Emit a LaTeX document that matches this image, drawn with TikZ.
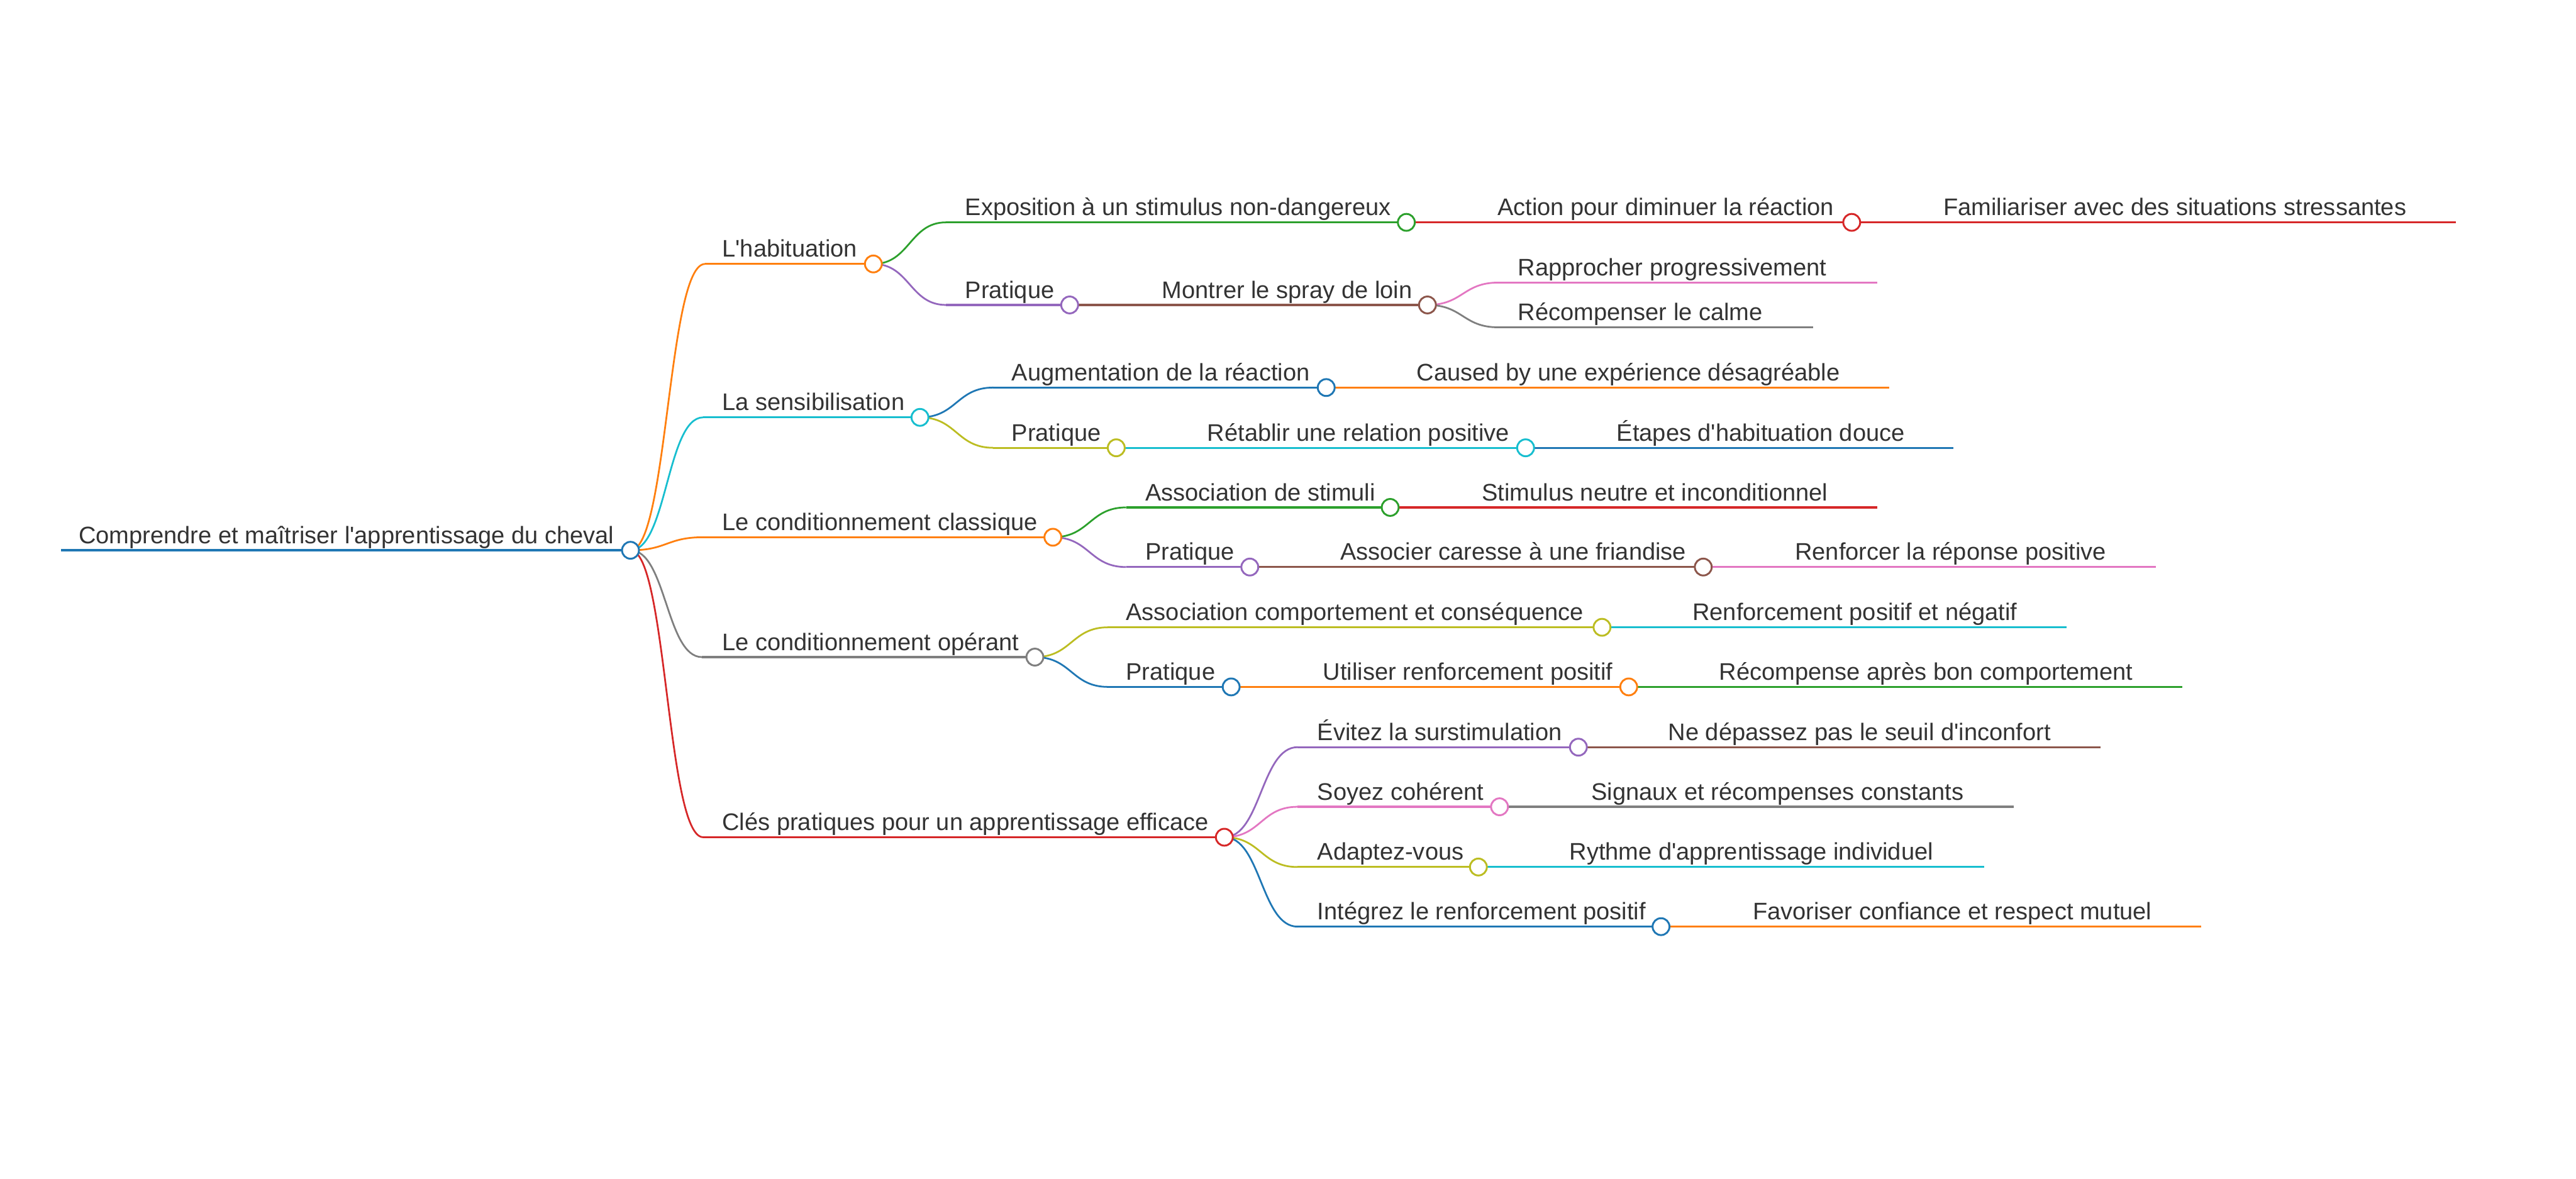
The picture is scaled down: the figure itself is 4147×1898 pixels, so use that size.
\documentclass[tikz,border=0pt]{standalone}
\usepackage{fontspec}
\newfontfamily\labfont{Liberation Sans}
\usetikzlibrary{calc,backgrounds}
\definecolor{cBlue}{HTML}{1F77B4}
\definecolor{cOrange}{HTML}{FF7F0E}
\definecolor{cGreen}{HTML}{2CA02C}
\definecolor{cRed}{HTML}{D62728}
\definecolor{cPurple}{HTML}{9467BD}
\definecolor{cBrown}{HTML}{8C564B}
\definecolor{cPink}{HTML}{E377C2}
\definecolor{cGray}{HTML}{7F7F7F}
\definecolor{cOlive}{HTML}{BCBD22}
\definecolor{cCyan}{HTML}{17BECF}
\definecolor{txt}{HTML}{333333}
\begin{document}
\begin{tikzpicture}[x=0.25pt,y=-0.25pt,
  lbl/.style={anchor=base west, inner sep=0pt, text=txt, font=\labfont\fontsize{9.63pt}{11pt}\selectfont},
  knob/.style={circle, draw=#1, fill=white, line width=0.75pt, minimum size=6.8pt, inner sep=0pt},
  uline/.style={draw=#1, line width=0.8pt},
  curv/.style={draw=#1, line width=0.7pt, to path={let \p1=(\tikztostart), \p2=(\tikztotarget) in .. controls ({(\x1+\x2)/2},\y1) and ({(\x1+\x2)/2},\y2) .. (\tikztotarget)}}]
\useasboundingbox (0,0) rectangle (4147,1898);

% ---------- texts ----------
\node[lbl] (tR) at (126,875) {Comprendre et maîtriser l'apprentissage du cheval};
\node[lbl] (tA) at (1162,414) {L'habituation};
\node[lbl] (tA1) at (1553,347) {Exposition à un stimulus non-dangereux};
\node[lbl] (tA1a) at (2410,347) {Action pour diminuer la réaction};
\node[lbl] (tA1a1) at (3128,347) {Familiariser avec des situations stressantes};
\node[lbl] (tA2) at (1553,480) {Pratique};
\node[lbl] (tA2a) at (1870,480) {Montrer le spray de loin};
\node[lbl] (tA2a1) at (2443,444) {Rapprocher progressivement};
\node[lbl] (tA2a2) at (2443,516) {Récompenser le calme};
\node[lbl] (tB) at (1162,661) {La sensibilisation};
\node[lbl] (tB1) at (1628,613) {Augmentation de la réaction};
\node[lbl] (tB1a) at (2280,613) {Caused by une expérience désagréable};
\node[lbl] (tB2) at (1628,710) {Pratique};
\node[lbl] (tB2a) at (1943,710) {Rétablir une relation positive};
\node[lbl] (tB2a1) at (2602,710) {Étapes d'habituation douce};
\node[lbl] (tC) at (1162,854) {Le conditionnement classique};
\node[lbl] (tC1) at (1843,806) {Association de stimuli};
\node[lbl] (tC1a) at (2385,806) {Stimulus neutre et inconditionnel};
\node[lbl] (tC2) at (1843,902) {Pratique};
\node[lbl] (tC2a) at (2157,902) {Associer caresse à une friandise};
\node[lbl] (tC2a1) at (2889,902) {Renforcer la réponse positive};
\node[lbl] (tD) at (1162,1047) {Le conditionnement opérant};
\node[lbl] (tD1) at (1812,999) {Association comportement et conséquence};
\node[lbl] (tD1a) at (2724,999) {Renforcement positif et négatif};
\node[lbl] (tD2) at (1812,1095) {Pratique};
\node[lbl] (tD2a) at (2129,1095) {Utiliser renforcement positif};
\node[lbl] (tD2a1) at (2767,1095) {Récompense après bon comportement};
\node[lbl] (tE) at (1162,1337) {Clés pratiques pour un apprentissage efficace};
\node[lbl] (tE1) at (2120,1192) {Évitez la surstimulation};
\node[lbl] (tE1a) at (2685,1192) {Ne dépassez pas le seuil d'inconfort};
\node[lbl] (tE2) at (2120,1288) {Soyez cohérent};
\node[lbl] (tE2a) at (2561,1288) {Signaux et récompenses constants};
\node[lbl] (tE3) at (2120,1385) {Adaptez-vous};
\node[lbl] (tE3a) at (2526,1385) {Rythme d'apprentissage individuel};
\node[lbl] (tE4) at (2120,1481) {Intégrez le renforcement positif};
\node[lbl] (tE4a) at (2821,1481) {Favoriser confiance et respect mutuel};

% ---------- line starts / ends ----------
\coordinate (sR) at (98,886);
\coordinate (sA) at (1135,425);
\coordinate (sA1) at (1523,358);
\coordinate (eA1a1) at (3954,358);
\coordinate (sA2) at (1523,491);
\coordinate (sA2a1) at (2412,455);
\coordinate (eA2a1) at (3022,455);
\coordinate (sA2a2) at (2412,527);
\coordinate (eA2a2) at (2919,527);
\coordinate (sB) at (1132,672);
\coordinate (sB1) at (1599,624);
\coordinate (eB1a) at (3041,624);
\coordinate (sB2) at (1599,721);
\coordinate (eB2a1) at (3145,721);
\coordinate (sC) at (1132,865);
\coordinate (sC1) at (1813,817);
\coordinate (eC1a) at (3022,817);
\coordinate (sC2) at (1813,913);
\coordinate (eC2a1) at (3471,913);
\coordinate (sD) at (1130,1058);
\coordinate (sD1) at (1784,1010);
\coordinate (eD1a) at (3327,1010);
\coordinate (sD2) at (1784,1106);
\coordinate (eD2a1) at (3513,1106);
\coordinate (sE) at (1132,1348);
\coordinate (sE1) at (2089,1203);
\coordinate (eE1a) at (3382,1203);
\coordinate (sE2) at (2089,1299);
\coordinate (eE2a) at (3242,1299);
\coordinate (sE3) at (2089,1396);
\coordinate (eE3a) at (3194,1396);
\coordinate (sE4) at (2089,1492);
\coordinate (eE4a) at (3544,1492);

% ---------- circles ----------
\node[knob=cBlue] (cR) at (1015,886) {};
\node[knob=cOrange] (cA) at (1406,425) {};
\node[knob=cGreen] (cA1) at (2264,358) {};
\node[knob=cRed] (cA1a) at (2981,358) {};
\node[knob=cPurple] (cA2) at (1722,491) {};
\node[knob=cBrown] (cA2a) at (2298,491) {};
\node[knob=cCyan] (cB) at (1481,672) {};
\node[knob=cBlue] (cB1) at (2135,624) {};
\node[knob=cOlive] (cB2) at (1797,721) {};
\node[knob=cCyan] (cB2a) at (2456,721) {};
\node[knob=cOrange] (cC) at (1695,865) {};
\node[knob=cGreen] (cC1) at (2238,817) {};
\node[knob=cPurple] (cC2) at (2012,913) {};
\node[knob=cBrown] (cC2a) at (2742,913) {};
\node[knob=cGray] (cD) at (1666,1058) {};
\node[knob=cOlive] (cD1) at (2579,1010) {};
\node[knob=cBlue] (cD2) at (1982,1106) {};
\node[knob=cOrange] (cD2a) at (2622,1106) {};
\node[knob=cRed] (cE) at (1971,1348) {};
\node[knob=cPurple] (cE1) at (2541,1203) {};
\node[knob=cPink] (cE2) at (2414,1299) {};
\node[knob=cOlive] (cE3) at (2380,1396) {};
\node[knob=cBlue] (cE4) at (2674,1492) {};

% ---------- connectors ----------
\begin{scope}[on background layer]
\draw[uline=cBlue, line width=0.95pt] (sR) -- (cR.center);
% L'habituation
\draw[curv=cOrange] (cR.center) to (sA);
\draw[uline=cOrange] (sA) -- (cA.center);
\draw[curv=cGreen] (cA.center) to (sA1);
\draw[uline=cGreen] (sA1) -- (cA1.center);
\draw[uline=cRed] (cA1.center) -- (cA1a.center);
\draw[uline=cRed] (cA1a.center) -- (eA1a1);
\draw[curv=cPurple] (cA.center) to (sA2);
\draw[uline=cPurple] (sA2) -- (cA2.center);
\draw[uline=cBrown] (cA2.center) -- (cA2a.center);
\draw[curv=cPink] (cA2a.center) to (sA2a1);
\draw[uline=cPink] (sA2a1) -- (eA2a1);
\draw[curv=cGray] (cA2a.center) to (sA2a2);
\draw[uline=cGray] (sA2a2) -- (eA2a2);
% La sensibilisation
\draw[curv=cCyan] (cR.center) to (sB);
\draw[uline=cCyan] (sB) -- (cB.center);
\draw[curv=cBlue] (cB.center) to (sB1);
\draw[uline=cBlue] (sB1) -- (cB1.center);
\draw[uline=cOrange] (cB1.center) -- (eB1a);
\draw[curv=cOlive] (cB.center) to (sB2);
\draw[uline=cOlive] (sB2) -- (cB2.center);
\draw[uline=cCyan] (cB2.center) -- (cB2a.center);
\draw[uline=cBlue] (cB2a.center) -- (eB2a1);
% Conditionnement classique
\draw[curv=cOrange] (cR.center) to (sC);
\draw[uline=cOrange] (sC) -- (cC.center);
\draw[curv=cGreen] (cC.center) to (sC1);
\draw[uline=cGreen] (sC1) -- (cC1.center);
\draw[uline=cRed] (cC1.center) -- (eC1a);
\draw[curv=cPurple] (cC.center) to (sC2);
\draw[uline=cPurple] (sC2) -- (cC2.center);
\draw[uline=cBrown] (cC2.center) -- (cC2a.center);
\draw[uline=cPink] (cC2a.center) -- (eC2a1);
% Conditionnement operant
\draw[curv=cGray] (cR.center) to (sD);
\draw[uline=cGray] (sD) -- (cD.center);
\draw[curv=cOlive] (cD.center) to (sD1);
\draw[uline=cOlive] (sD1) -- (cD1.center);
\draw[uline=cCyan] (cD1.center) -- (eD1a);
\draw[curv=cBlue] (cD.center) to (sD2);
\draw[uline=cBlue] (sD2) -- (cD2.center);
\draw[uline=cOrange] (cD2.center) -- (cD2a.center);
\draw[uline=cGreen] (cD2a.center) -- (eD2a1);
% Cles pratiques
\draw[curv=cRed] (cR.center) to (sE);
\draw[uline=cRed] (sE) -- (cE.center);
\draw[curv=cPurple] (cE.center) to (sE1);
\draw[uline=cPurple] (sE1) -- (cE1.center);
\draw[uline=cBrown] (cE1.center) -- (eE1a);
\draw[curv=cPink] (cE.center) to (sE2);
\draw[uline=cPink] (sE2) -- (cE2.center);
\draw[uline=cGray] (cE2.center) -- (eE2a);
\draw[curv=cOlive] (cE.center) to (sE3);
\draw[uline=cOlive] (sE3) -- (cE3.center);
\draw[uline=cCyan] (cE3.center) -- (eE3a);
\draw[curv=cBlue] (cE.center) to (sE4);
\draw[uline=cBlue] (sE4) -- (cE4.center);
\draw[uline=cOrange] (cE4.center) -- (eE4a);
\end{scope}
\end{tikzpicture}
\end{document}
